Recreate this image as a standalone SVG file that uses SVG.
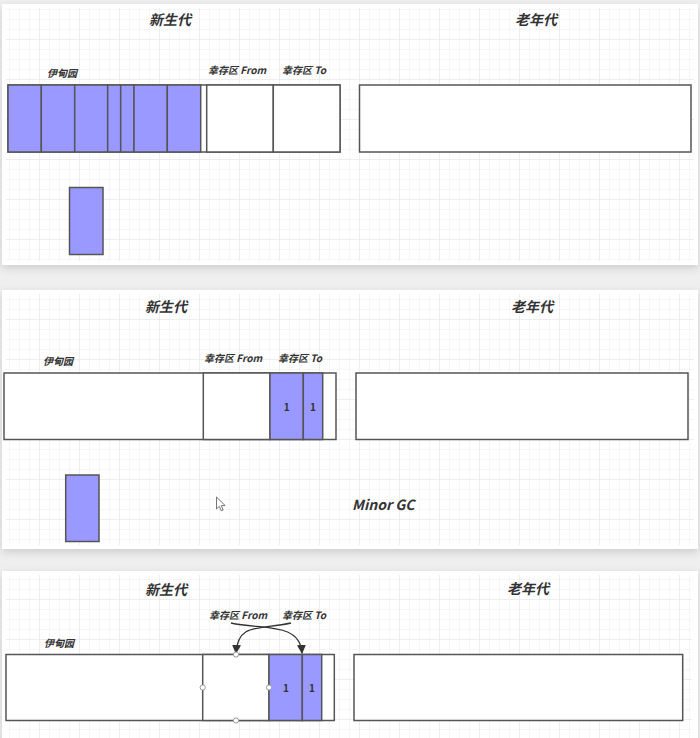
<svg xmlns="http://www.w3.org/2000/svg" width="700" height="738" viewBox="0 0 700 738">
<defs>
<pattern id="grid" width="10" height="10" patternUnits="userSpaceOnUse">
<path d="M10 0 V10 M0 10 H10" fill="none" stroke="#eeeeee" stroke-width="1"/>
</pattern>
<pattern id="gridMajor" width="40" height="40" patternUnits="userSpaceOnUse">
<rect width="40" height="40" fill="url(#grid)"/>
<path d="M40 0 V40 M0 40 H40" fill="none" stroke="#e6e6e6" stroke-width="1"/>
</pattern>
<filter id="shadow" x="-5%" y="-10%" width="110%" height="125%">
<feDropShadow dx="0" dy="3" stdDeviation="4" flood-color="#000" flood-opacity="0.15"/>
</filter>
<marker id="arrow" viewBox="0 0 10 10" refX="9" refY="5" markerWidth="9" markerHeight="9" markerUnits="userSpaceOnUse" orient="auto">
<path d="M0 0 L10 5 L0 10 Z" fill="#333"/>
</marker>
<style>
.card{fill:#fff;filter:url(#shadow)}
.gridfill{fill:url(#gridMajor)}
.box{fill:#fff;stroke:#555;stroke-width:1.5}
.blue{fill:#9999ff;stroke:#555;stroke-width:1.5}
.title{font-family:"Noto Sans CJK SC","Liberation Sans",sans-serif;font-size:14px;font-weight:bold;font-style:italic;fill:#333}
.lbl{font-family:"Noto Sans CJK SC","Liberation Sans",sans-serif;font-size:10px;font-weight:bold;font-style:italic;fill:#333}
.num{font-family:"Noto Sans CJK SC","Liberation Sans",sans-serif;font-size:10px;font-weight:bold;fill:#333}
.gc{font-family:"Noto Sans CJK SC","Liberation Sans",sans-serif;font-size:14px;font-weight:bold;font-style:italic;fill:#333}
.conn{fill:none;stroke:#333;stroke-width:1.3}
.handle{fill:#fff;stroke:#999;stroke-width:1}
</style>
</defs>
<rect width="700" height="738" fill="#efefef"/>

<g id="panel1">
<rect class="card" x="2" y="4" width="696" height="261"/>
<rect class="gridfill" x="6" y="8" width="688" height="253"/>
<text class="title" x="170" y="25" text-anchor="middle">新生代</text>
<text class="title" x="536" y="25" text-anchor="middle">老年代</text>
<text class="lbl" x="62" y="77" text-anchor="middle">伊甸园</text>
<text class="lbl" x="208" y="74">幸存区 From</text>
<text class="lbl" x="282" y="74">幸存区 To</text>
<g id="p1-young">
<rect class="box" x="8" y="85" width="332" height="67"/>
<rect class="blue" x="8" y="85" width="33.3" height="67"/>
<rect class="blue" x="41.3" y="85" width="33.4" height="67"/>
<rect class="blue" x="74.7" y="85" width="33" height="67"/>
<rect class="blue" x="107.7" y="85" width="13" height="67"/>
<rect class="blue" x="120.7" y="85" width="13.3" height="67"/>
<rect class="blue" x="134" y="85" width="33.3" height="67"/>
<rect class="blue" x="167.3" y="85" width="33.4" height="67"/>
<rect class="box" x="206.7" y="85" width="66.6" height="67"/>
<rect class="box" x="273.3" y="85" width="66.7" height="67"/>
</g>
<rect id="p1-old" class="box" x="359.5" y="85" width="331.5" height="67"/>
<rect id="p1-obj" class="blue" x="69.5" y="187.5" width="33.5" height="67"/>
</g>

<g id="panel2">
<rect class="card" x="2" y="290" width="696" height="259"/>
<rect class="gridfill" x="6" y="294" width="688" height="251"/>
<text class="title" x="166" y="312" text-anchor="middle">新生代</text>
<text class="title" x="532" y="312" text-anchor="middle">老年代</text>
<text class="lbl" x="43" y="365">伊甸园</text>
<text class="lbl" x="204" y="362">幸存区 From</text>
<text class="lbl" x="278" y="362">幸存区 To</text>
<g id="p2-young">
<rect class="box" x="4" y="373" width="332" height="66.5"/>
<rect class="box" x="203.3" y="373" width="66.7" height="66.5"/>
<rect class="blue" x="270" y="373" width="33.3" height="66.5"/>
<rect class="blue" x="303.3" y="373" width="19.4" height="66.5"/>
<text class="num" x="286.7" y="410.5" text-anchor="middle">1</text>
<text class="num" x="313" y="410.5" text-anchor="middle">1</text>
</g>
<rect id="p2-old" class="box" x="356" y="373" width="332" height="66.5"/>
<rect id="p2-obj" class="blue" x="65.7" y="475" width="33.3" height="66.5"/>
<path id="cursor" d="M216.5 497 L216.5 509 L219.3 506.3 L221.3 510.8 L223.2 510 L221.3 505.6 L225.2 505.6 Z" fill="#fff" stroke="#666" stroke-width="0.9" stroke-linejoin="round"/>
<text class="gc" x="352" y="510">Minor GC</text>
</g>

<g id="panel3">
<rect class="card" x="2" y="571" width="696" height="172"/>
<rect class="gridfill" x="6" y="575" width="686" height="163"/>
<text class="title" x="166" y="595" text-anchor="middle">新生代</text>
<text class="title" x="528" y="594" text-anchor="middle">老年代</text>
<text class="lbl" x="44" y="647">伊甸园</text>
<text class="lbl" x="209" y="619">幸存区 From</text>
<text class="lbl" x="282" y="619">幸存区 To</text>
<g id="p3-young">
<rect class="box" x="6" y="654.5" width="328.3" height="66"/>
<rect class="box" x="202.7" y="654.5" width="66.3" height="66"/>
<rect class="blue" x="269" y="654.5" width="33.3" height="66"/>
<rect class="blue" x="302.3" y="654.5" width="19.4" height="66"/>
<text class="num" x="286" y="691.5" text-anchor="middle">1</text>
<text class="num" x="312" y="691.5" text-anchor="middle">1</text>
</g>
<rect id="p3-old" class="box" x="354" y="654.5" width="328.7" height="66"/>
<g id="connectors">
<path class="conn" d="M231 623 C262 630 300 622 302 653" marker-end="url(#arrow)"/>
<path class="conn" d="M291 623 C260 630 238 622 236 653" marker-end="url(#arrow)"/>
</g>
<g id="handles">
<circle class="handle" cx="236" cy="654.5" r="2.6"/>
<circle class="handle" cx="202.7" cy="687.5" r="2.6"/>
<circle class="handle" cx="269" cy="687.5" r="2.6"/>
<circle class="handle" cx="236" cy="720.5" r="2.6"/>
</g>
</g>
</svg>
